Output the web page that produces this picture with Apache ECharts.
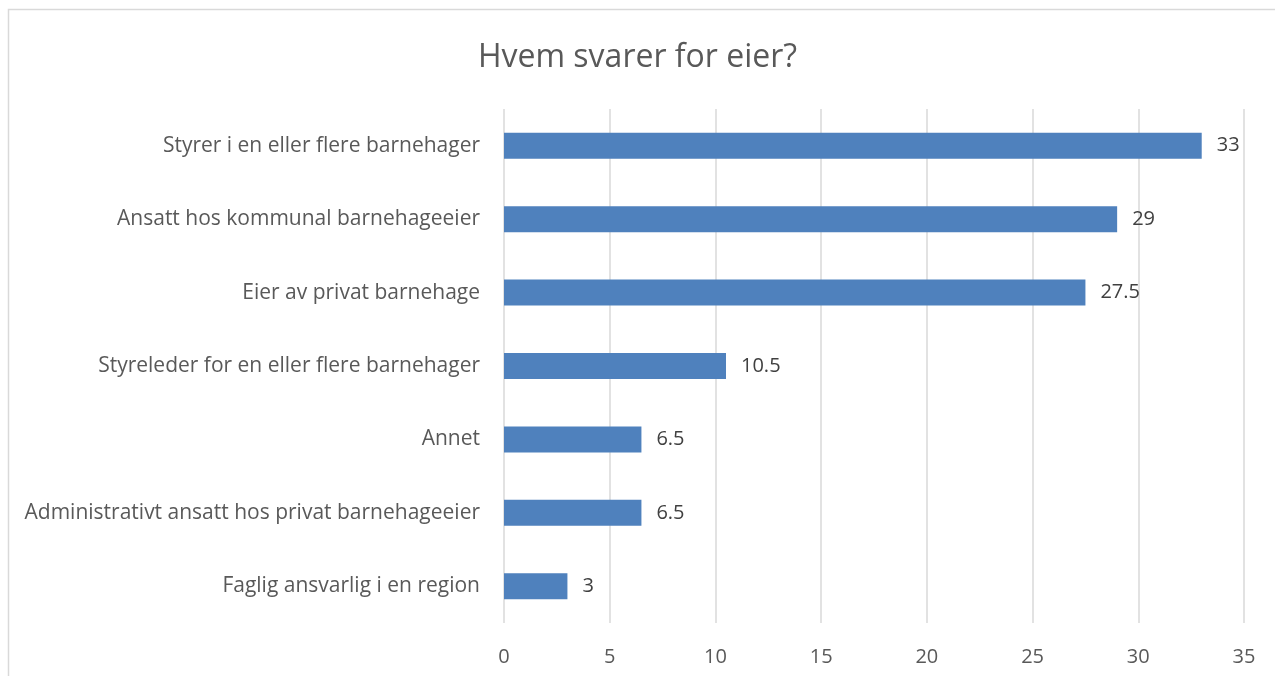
<!DOCTYPE html>
<html>
<head>
<meta charset="utf-8">
<script src="https://cdn.jsdelivr.net/npm/echarts@6/dist/echarts.min.js"></script>
<style>
  html, body { margin: 0; padding: 0; background: #fff; }
  #chart { width: 1275px; height: 676px; }
</style>
</head>
<body>
<div id="chart"></div>
<script>
// data
const categories = [
  'Styrer i en eller flere barnehager',
  'Ansatt hos kommunal barnehageeier',
  'Eier av privat barnehage',
  'Styreleder for en eller flere barnehager',
  'Annet',
  'Administrativt ansatt hos privat barnehageeier',
  'Faglig ansvarlig i en region'
]
const values = [33, 29, 27.5, 10.5, 6.5, 6.5, 3]
const xTicks = [0, 5, 10, 15, 20, 25, 30, 35]

const font = 'Open Sans'
const mycharts = echarts.init(document.getElementById('chart'))
mycharts.setOption({
  animation: false,
  textStyle: { fontFamily: font },
  title: {
    text: 'Hvem svarer for eier?',
    left: 'center',
    top: 37,
    textStyle: { fontSize: 32, fontWeight: 'normal', color: '#595959', fontFamily: font }
  },
  // light frame round the chart
  graphic: [{
    type: 'rect',
    shape: { x: 8.5, y: 9.5, width: 1300, height: 700 },
    style: { fill: 'none', stroke: '#d9d9d9', lineWidth: 1.5 },
    silent: true
  }],
  grid: { left: 504, right: 31, top: 109, bottom: 53 },
  xAxis: {
    type: 'value',
    min: xTicks[0],
    max: xTicks[xTicks.length - 1],
    interval: 5,
    axisLine: { show: false },
    axisTick: { show: false },
    axisLabel: { fontSize: 20, color: '#595959', margin: 24, fontFamily: font },
    splitLine: { show: true, lineStyle: { color: '#d9d9d9', width: 1.5 } }
  },
  yAxis: {
    type: 'category',
    inverse: true,
    data: categories,
    axisLine: { show: false },
    axisTick: { show: false },
    axisLabel: { fontSize: 21, color: '#595959', margin: 24, fontFamily: font }
  },
  series: [{
    type: 'bar',
    data: values,
    barWidth: 26,
    itemStyle: { color: '#4f81bd' },
    label: {
      show: true,
      position: 'right',
      distance: 15,
      fontSize: 20,
      color: '#404040',
      fontFamily: font
    }
  }]
})
</script>
</body>
</html>
